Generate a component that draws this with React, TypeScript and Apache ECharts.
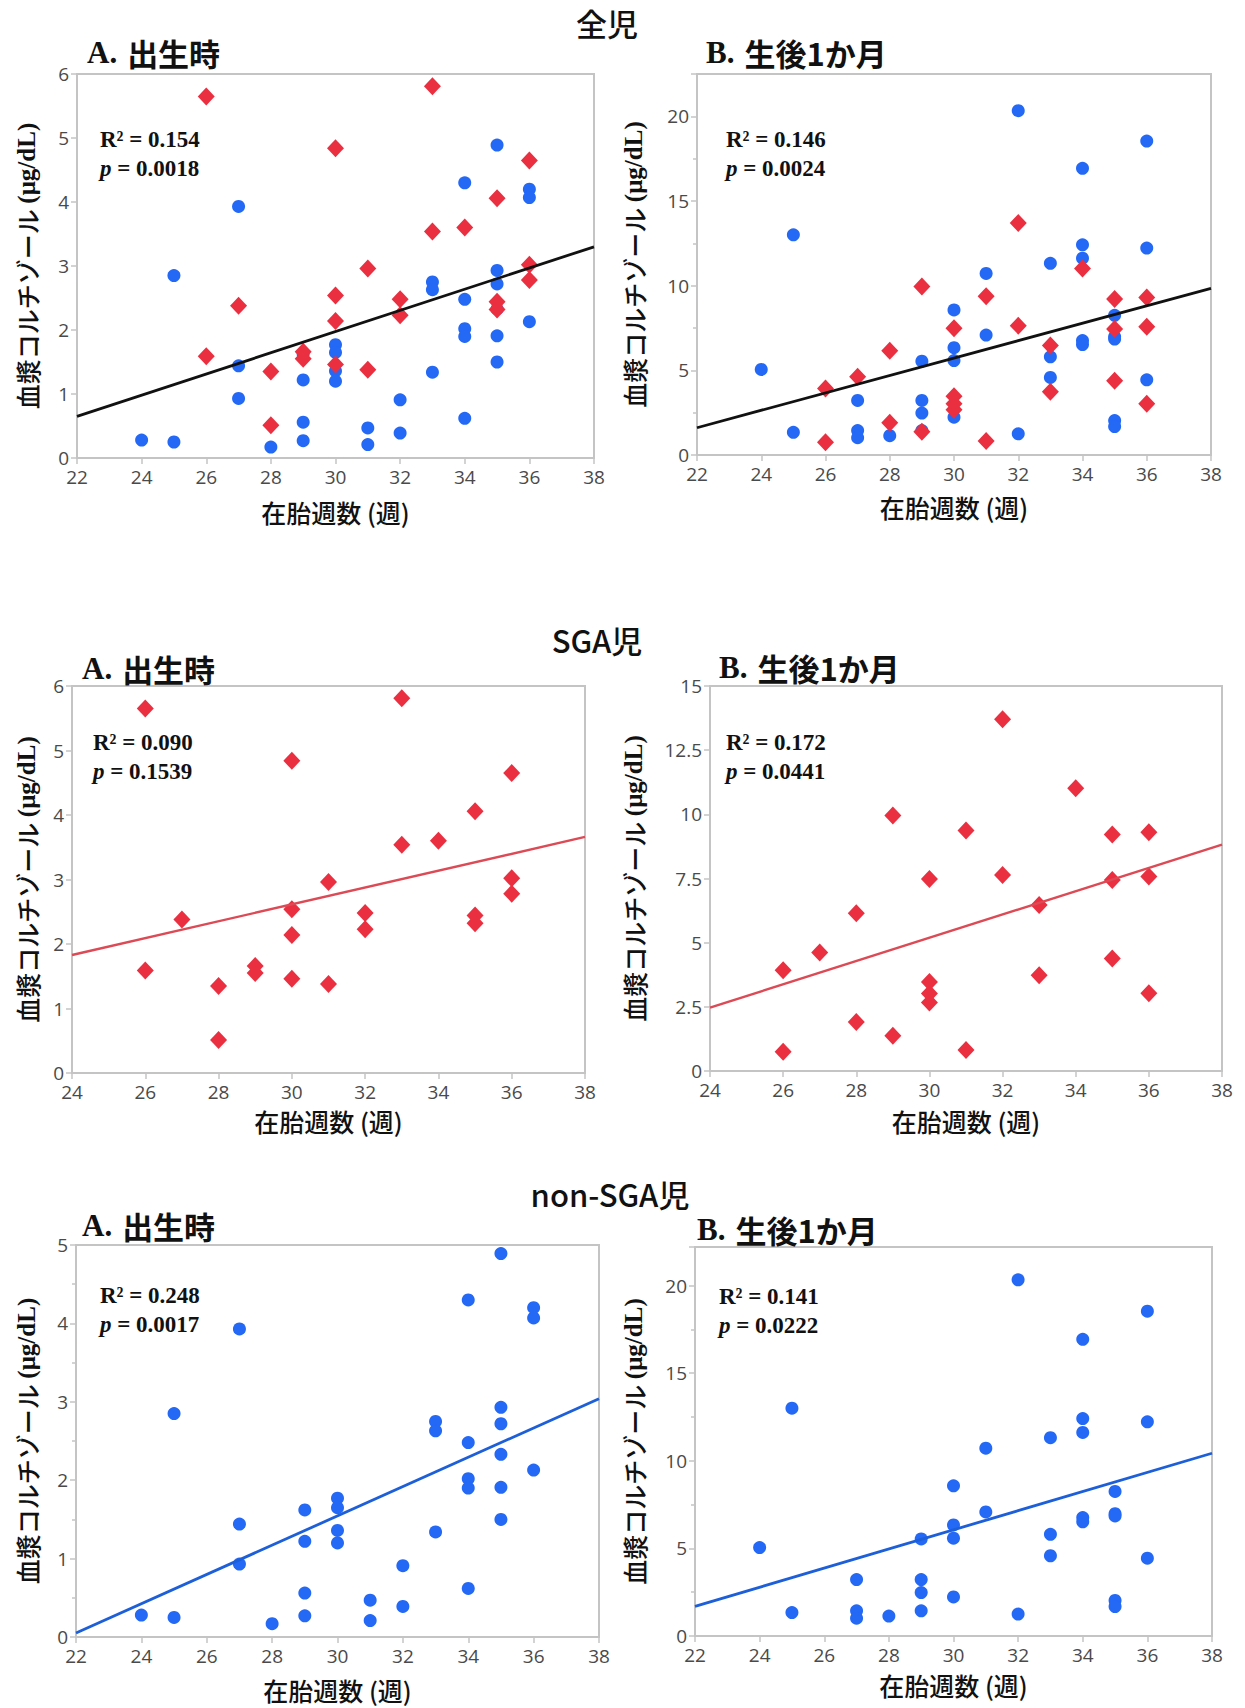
import React, { useEffect, useRef } from "react";
import * as echarts from "echarts";

// ---------- data (gestational week, plasma cortisol µg/dL) ----------
// non-SGA infants (blue), at birth
const blueBirth: number[][] = [
  [24, 0.28], [25, 2.85], [25, 0.25], [27, 3.93], [27, 1.44], [27, 0.93], [28, 0.17],
  [29, 1.62], [29, 1.22], [29, 0.56], [29, 0.27], [30, 1.77], [30, 1.65], [30, 1.36], [30, 1.2],
  [31, 0.47], [31, 0.21], [32, 0.91], [32, 0.39], [33, 2.75], [33, 2.63], [33, 1.34],
  [34, 4.3], [34, 2.48], [34, 2.02], [34, 1.9], [34, 0.62],
  [35, 4.89], [35, 2.93], [35, 2.72], [35, 2.33], [35, 1.91], [35, 1.5],
  [36, 4.2], [36, 4.07], [36, 2.13],
];
// SGA infants (red), at birth
const redBirth: number[][] = [
  [26, 5.65], [26, 1.59], [27, 2.38], [28, 1.35], [28, 0.51], [29, 1.66], [29, 1.55],
  [30, 4.84], [30, 2.54], [30, 2.14], [30, 1.46], [31, 2.96], [31, 1.38], [32, 2.48], [32, 2.23],
  [33, 5.81], [33, 3.54], [34, 3.6], [35, 4.06], [35, 2.44], [35, 2.32],
  [36, 4.65], [36, 3.02], [36, 2.78],
];
// non-SGA infants (blue), 1 month after birth
const blueMonth: number[][] = [
  [24, 5.05], [25, 13.0], [25, 1.34], [27, 3.22], [27, 1.44], [27, 1.02], [28, 1.14],
  [29, 5.54], [29, 3.22], [29, 2.48], [29, 1.44], [30, 8.57], [30, 6.34], [30, 5.58], [30, 2.23],
  [31, 10.72], [31, 7.08], [32, 20.33], [32, 1.25], [33, 11.32], [33, 5.8], [33, 4.58],
  [34, 16.93], [34, 12.41], [34, 11.62], [34, 6.76], [34, 6.52],
  [35, 8.25], [35, 6.98], [35, 6.85], [35, 2.03], [35, 1.68],
  [36, 18.54], [36, 12.22], [36, 4.44],
];
// SGA infants (red), 1 month after birth
const redMonth: number[][] = [
  [26, 3.93], [26, 0.75], [27, 4.62], [28, 6.15], [28, 1.91], [29, 9.95], [29, 1.37],
  [30, 7.48], [30, 3.47], [30, 3.02], [30, 2.67], [31, 9.37], [31, 0.82], [32, 13.7], [32, 7.64],
  [33, 6.47], [33, 3.73], [34, 11.02], [35, 9.21], [35, 7.44], [35, 4.38],
  [36, 9.3], [36, 7.58], [36, 3.03],
];
// regression lines (end points)
const fitAllBirth: number[][] = [[22, 0.65], [38, 3.3]];
const fitAllMonth: number[][] = [[22, 1.61], [38, 9.84]];
const fitSgaBirth: number[][] = [[24, 1.83], [38, 3.66]];
const fitSgaMonth: number[][] = [[24, 2.47], [38, 8.82]];
const fitNonBirth: number[][] = [[22, 0.05], [38, 3.04]];
const fitNonMonth: number[][] = [[22, 1.69], [38, 10.43]];

const sectionTitles = ["全児", "SGA児", "non-SGA児"];
const panelTitles = [
  ["A.", "出生時"], ["B.", "生後1か月"],
  ["A.", "出生時"], ["B.", "生後1か月"],
  ["A.", "出生時"], ["B.", "生後1か月"],
];
const r2Values = ["0.154", "0.146", "0.090", "0.172", "0.248", "0.141"];
const pValues = ["0.0018", "0.0024", "0.1539", "0.0441", "0.0017", "0.0222"];
const xMins = [22, 22, 24, 24, 22, 22];
const yMaxs = [6, 22.5, 6, 15, 5, 22.2];
const yIntervals = [1, 5, 1, 2.5, 1, 5];
const xAxisName = "在胎週数 (週)";
const yAxisNameJa = "血漿コルチゾール";
const yAxisNameUnit = "(μg/dL)";

// ---------- layout ----------
const W = 1245;
const H = 1708;
const grids = [
  { left: 77, top: 74, width: 517, height: 384 },
  { left: 697, top: 74, width: 514, height: 381 },
  { left: 72, top: 686, width: 513, height: 387 },
  { left: 710, top: 686, width: 512, height: 385 },
  { left: 76, top: 1245, width: 523, height: 392 },
  { left: 695, top: 1247, width: 517, height: 389 },
];
const yNameGaps = [38, 51, 33, 64, 37, 49];
const xNameGaps = [41, 39, 35, 37, 40, 36];
const minorY = [false, true, false, false, true, true];
const sectionPos = [[607, 22], [597, 639], [610, 1193]];
const panelTitlePos = [[87, 52], [706, 52], [82, 668], [719, 667], [82, 1225], [697, 1229]];
const statPos = [[100, 139], [726, 139], [93, 742], [726, 742], [100, 1295], [719, 1296]];

const JP = '"Noto Sans CJK JP", "Noto Sans", sans-serif';
const SERIF = '"Liberation Serif", "DejaVu Serif", serif';
const TICK = '"Open Sans", "Noto Sans", sans-serif';
const BLUE = "#2468f6";
const RED = "#ea3040";
const AXIS = "#c4c4c4";

function buildOption() {
  const xAxis = grids.map((_, i) => ({
    type: "value",
    gridIndex: i,
    min: xMins[i],
    max: 38,
    interval: 2,
    name: xAxisName,
    nameLocation: "middle",
    nameGap: xNameGaps[i],
    nameTextStyle: { fontFamily: JP, fontSize: 25, fontWeight: 500, color: "#111" },
    axisLine: { onZero: false, lineStyle: { color: AXIS, width: 2 } },
    axisTick: { show: true, length: 6, lineStyle: { color: AXIS, width: 1.5 } },
    axisLabel: { fontFamily: TICK, fontSize: 19, color: "#4a4a4a", margin: 9 },
    splitLine: { show: false },
  }));
  const yAxis = grids.map((_, i) => ({
    type: "value",
    gridIndex: i,
    min: 0,
    max: yMaxs[i],
    interval: yIntervals[i],
    name: `{j|${yAxisNameJa} }{s|${yAxisNameUnit}}`,
    nameLocation: "middle",
    nameRotate: 90,
    nameGap: yNameGaps[i],
    nameTextStyle: {
      rich: {
        j: { fontFamily: JP, fontSize: 25, fontWeight: 500, color: "#111" },
        s: { fontFamily: SERIF, fontSize: 25, fontWeight: "bold", color: "#111" },
      },
    },
    axisLine: { onZero: false, lineStyle: { color: AXIS, width: 2 } },
    axisTick: { show: true, length: 6, lineStyle: { color: AXIS, width: 1.5 } },
    minorTick: { show: minorY[i], splitNumber: 2, length: 4, lineStyle: { color: AXIS, width: 1.5 } },
    axisLabel: {
      fontFamily: TICK,
      fontSize: 19,
      color: "#4a4a4a",
      margin: 8,
      showMaxLabel: yMaxs[i] % yIntervals[i] === 0,
      formatter: (v: number) => (Math.abs(v / yIntervals[i] - Math.round(v / yIntervals[i])) < 1e-6 ? String(v) : ""),
    },
    splitLine: { show: false },
  }));

  const blueDot = (data: number[][], i: number) => ({
    type: "scatter", xAxisIndex: i, yAxisIndex: i, data,
    symbol: "circle", symbolSize: 13, itemStyle: { color: BLUE, opacity: 1 }, z: 3,
  });
  const redDiamond = (data: number[][], i: number) => ({
    type: "scatter", xAxisIndex: i, yAxisIndex: i, data,
    symbol: "diamond", symbolSize: [17, 18], itemStyle: { color: RED, opacity: 1 }, z: 4,
  });
  const fit = (data: number[][], i: number, color: string, width: number) => ({
    type: "line", xAxisIndex: i, yAxisIndex: i, data,
    symbol: "none", lineStyle: { color, width }, z: 5, silent: true,
  });

  const series = [
    blueDot(blueBirth, 0), redDiamond(redBirth, 0), fit(fitAllBirth, 0, "#111", 2.8),
    blueDot(blueMonth, 1), redDiamond(redMonth, 1), fit(fitAllMonth, 1, "#111", 2.8),
    redDiamond(redBirth, 2), fit(fitSgaBirth, 2, "#dc4a55", 2.4),
    redDiamond(redMonth, 3), fit(fitSgaMonth, 3, "#dc4a55", 2.4),
    blueDot(blueBirth, 4), fit(fitNonBirth, 4, "#1c5fd8", 2.8),
    blueDot(blueMonth, 5), fit(fitNonMonth, 5, "#1c5fd8", 2.8),
  ];

  const graphic: any[] = [];
  sectionTitles.forEach((t, k) => {
    graphic.push({
      type: "text", x: sectionPos[k][0], y: sectionPos[k][1],
      style: {
        text: t, fontFamily: JP, fontSize: 31, fontWeight: 500, fill: "#111",
        align: "center", verticalAlign: "middle", textAlign: "center", textVerticalAlign: "middle",
      },
    });
  });
  panelTitles.forEach((t, k) => {
    graphic.push({
      type: "text", x: panelTitlePos[k][0], y: panelTitlePos[k][1],
      style: {
        text: `{a|${t[0]}}{g| }{b|${t[1]}}`,
        fill: "#111", align: "left", verticalAlign: "middle", textAlign: "left", textVerticalAlign: "middle",
        rich: {
          a: { fontFamily: SERIF, fontSize: 31, fontWeight: "bold", fill: "#111", color: "#111" },
          g: { fontFamily: SERIF, fontSize: 31, width: 10 },
          b: { fontFamily: JP, fontSize: 31, fontWeight: "bold", fill: "#111", color: "#111" },
        },
      },
    });
  });
  statPos.forEach((p, k) => {
    graphic.push({
      type: "text", x: p[0], y: p[1],
      style: {
        text: `R² = ${r2Values[k]}`, fontFamily: SERIF, fontSize: 23, fontWeight: "bold", fill: "#111",
        align: "left", verticalAlign: "middle", textAlign: "left", textVerticalAlign: "middle",
      },
    });
    graphic.push({
      type: "text", x: p[0], y: p[1] + 29,
      style: {
        text: `{i|p}{b| = ${pValues[k]}}`,
        fill: "#111", align: "left", verticalAlign: "middle", textAlign: "left", textVerticalAlign: "middle",
        rich: {
          i: { fontFamily: SERIF, fontSize: 23, fontWeight: "bold", fontStyle: "italic", fill: "#111", color: "#111" },
          b: { fontFamily: SERIF, fontSize: 23, fontWeight: "bold", fill: "#111", color: "#111" },
        },
      },
    });
  });

  return {
    animation: false,
    backgroundColor: "#ffffff",
    grid: grids.map((g) => ({ ...g, show: true, borderColor: AXIS, borderWidth: 2, backgroundColor: "transparent" })),
    xAxis,
    yAxis,
    series,
    graphic,
  };
}

export default function App() {
  const ref = useRef<HTMLDivElement>(null);
  useEffect(() => {
    document.body.style.margin = "0";
    const chart = echarts.init(ref.current!, null, { renderer: "svg" });
    chart.setOption(buildOption() as any);
    return () => chart.dispose();
  }, []);
  return <div ref={ref} style={{ width: W, height: H, background: "#fff" }} />;
}
